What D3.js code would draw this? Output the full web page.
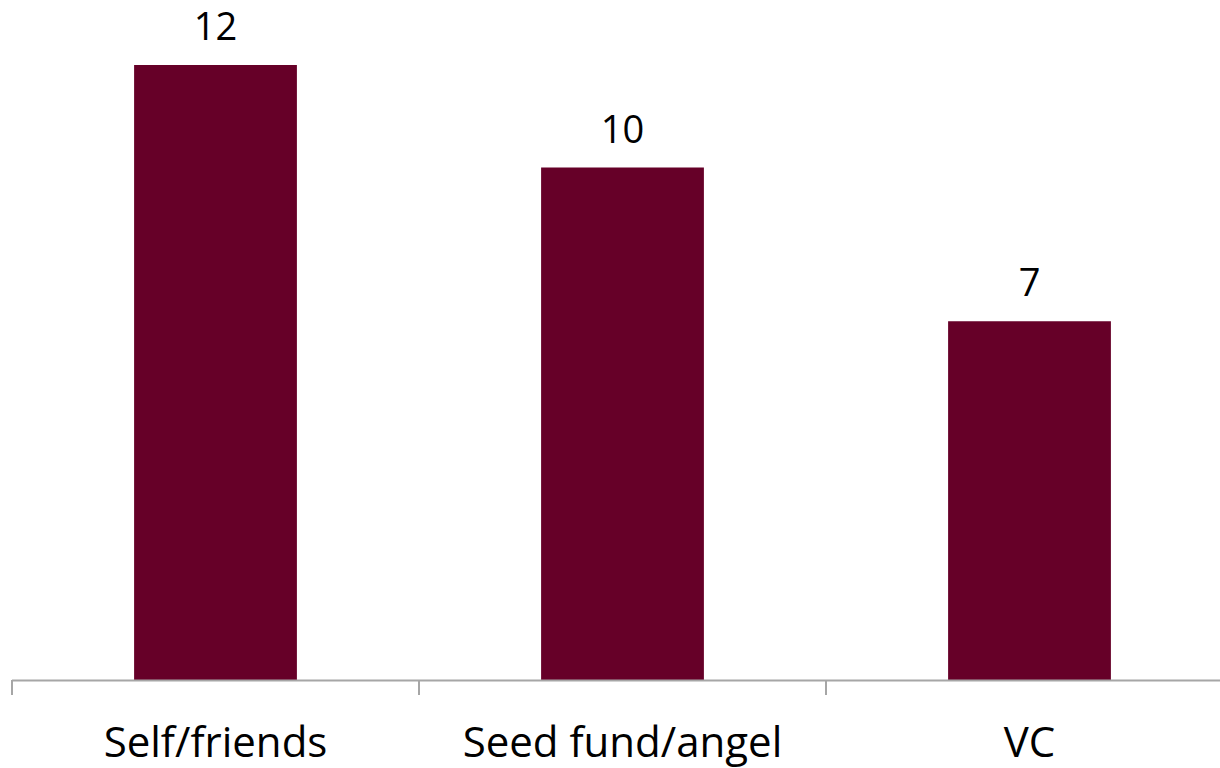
<!DOCTYPE html>
<html><head><meta charset="utf-8">
<script src="https://cdn.jsdelivr.net/npm/d3@7"></script>
<style>html,body{margin:0;padding:0;background:#fff;}svg{display:block;}</style>
</head><body>
<svg id="c" width="1220" height="768"></svg>
<script>
const categories = ["Self/friends", "Seed fund/angel", "VC"];
const values = [12, 10, 7];

const svg = d3.select("#c");
const font = "'Open Sans', sans-serif";
const baseY = 680;
const x = d3.scaleBand().domain(categories).range([12, 1233]).paddingInner(0.6).paddingOuter(0.3);
const y = d3.scaleLinear().domain([0, 12]).range([baseY, 65]);

svg.selectAll("rect.bar").data(values).enter().append("rect")
  .attr("class","bar")
  .attr("x", (d,i) => x(categories[i]))
  .attr("width", x.bandwidth())
  .attr("y", d => y(d))
  .attr("height", d => baseY - y(d))
  .attr("fill", "#660028");

// axis
const axis = d3.axisBottom(x).tickSize(0).tickFormat("");
const g = svg.append("g").attr("transform", `translate(0,${baseY})`).call(axis);
g.select(".domain").remove();
g.append("line").attr("x1", 12).attr("x2", 1233).attr("y1", 0.5).attr("y2", 0.5).attr("stroke", "#a6a6a6").attr("stroke-width", 2);
const step = x.step();
const bounds = d3.range(categories.length + 1).map(i => 12 + i * step);
g.selectAll("line.tk").data(bounds).enter().append("line")
  .attr("class","tk")
  .attr("x1", d => d).attr("x2", d => d)
  .attr("y1", 0).attr("y2", 15)
  .attr("stroke", "#a6a6a6").attr("stroke-width", 2);

svg.selectAll("text.cat").data(categories).enter().append("text")
  .attr("class","cat")
  .attr("x", d => x(d) + x.bandwidth()/2)
  .attr("y", 757)
  .attr("text-anchor","middle")
  .attr("font-family", font).attr("font-size", 42).attr("fill", "#000")
  .text(d => d);

svg.selectAll("text.val").data(values).enter().append("text")
  .attr("class","val")
  .attr("x", (d,i) => x(categories[i]) + x.bandwidth()/2)
  .attr("y", d => y(d) - 25)
  .attr("text-anchor","middle")
  .attr("font-family", font).attr("font-size", 38).attr("fill", "#000")
  .text(d => d);
</script>
</body></html>
